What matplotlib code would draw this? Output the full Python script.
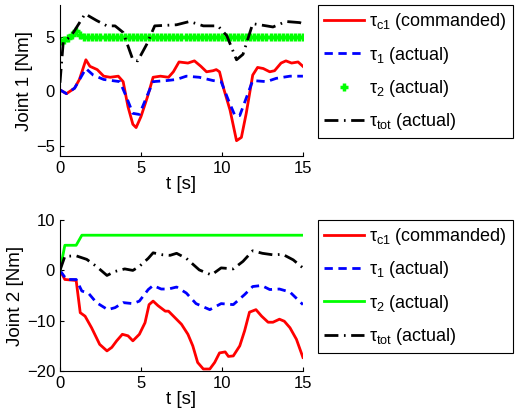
import matplotlib
matplotlib.use("Agg")
import matplotlib.pyplot as plt

plt.rcParams["font.family"] = ["Liberation Sans", "DejaVu Sans"]
plt.rcParams["mathtext.fontset"] = "custom"
plt.rcParams["mathtext.rm"] = "Liberation Sans"
plt.rcParams["mathtext.it"] = "Liberation Sans"
plt.rcParams["mathtext.bf"] = "Liberation Sans"

# ---- Joint 1 ----
t1_cmd = [0, 0.4, 0.9, 1.2, 1.6, 1.85, 2.3, 2.7, 3.1, 3.6, 3.9, 4.2, 4.5, 4.7, 5.0,
          5.4, 5.75, 6.2, 6.7, 7.0, 7.35, 7.9, 8.3, 8.7, 9.05, 9.45, 9.65, 9.85,
          10.1, 10.5, 10.9, 11.2, 11.5, 11.9, 12.2, 12.55, 12.95, 13.25, 13.65,
          13.95, 14.3, 14.7, 15]
j1_cmd = [0.15, -0.2, 0.3, 1.1, 2.9, 2.3, 2.0, 1.4, 1.3, 1.4, 0.9, -1.4, -3.0, -3.3,
          -2.3, -0.5, 1.3, 1.4, 1.3, 1.8, 2.7, 2.6, 2.8, 2.3, 1.8, 1.9, 2.0, 1.8,
          0.3, -1.7, -4.5, -4.2, -2.0, 1.5, 2.2, 2.1, 1.8, 1.9, 2.6, 2.8, 2.6,
          2.7, 2.3]

t1_act = [0, 0.4, 0.9, 1.6, 2.05, 2.7, 3.7, 4.1, 4.5, 4.9, 5.35, 5.75, 6.6, 7.2,
          7.8, 8.6, 9.45, 9.95, 10.4, 10.8, 11.1, 11.5, 11.9, 12.75, 13.35, 14.2, 15]
j1_act = [0.15, -0.2, 0.3, 2.1, 1.5, 1.1, 0.9, -0.5, -2.0, -2.1, -0.5, 0.9, 1.0,
          1.1, 1.4, 1.3, 1.0, 0.9, -0.8, -2.2, -2.2, -0.6, 1.0, 0.9, 1.2, 1.4, 1.4]

t1_tau2 = [0, 0.25, 0.5, 0.75, 1.0, 1.25, 1.5, 1.75, 2.0, 2.25, 2.5, 2.75, 3.0,
           3.25, 3.5, 3.75, 4.0, 4.25, 4.5, 4.75, 5.0, 5.25, 5.5, 5.75, 6.0,
           6.25, 6.5, 6.75, 7.0, 7.25, 7.5, 7.75, 8.0, 8.25, 8.5, 8.75, 9.0,
           9.25, 9.5, 9.75, 10.0, 10.25, 10.5, 10.75, 11.0, 11.25, 11.5, 11.75,
           12.0, 12.25, 12.5, 12.75, 13.0, 13.25, 13.5, 13.75, 14.0, 14.25,
           14.5, 14.75, 15.0]
j1_tau2 = [4.6, 4.7, 4.9, 5.2, 5.5, 5.2, 5.0, 5.0, 5.0, 5.0, 5.0, 5.0, 5.0,
           5.0, 5.0, 5.0, 5.0, 5.0, 5.0, 5.0, 5.0, 5.0, 5.0, 5.0, 5.0,
           5.0, 5.0, 5.0, 5.0, 5.0, 5.0, 5.0, 5.0, 5.0, 5.0, 5.0, 5.0,
           5.0, 5.0, 5.0, 5.0, 5.0, 5.0, 5.0, 5.0, 5.0, 5.0, 5.0,
           5.0, 5.0, 5.0, 5.0, 5.0, 5.0, 5.0, 5.0, 5.0, 5.0,
           5.0, 5.0, 5.0]

t1_tot = [0, 0.2, 0.7, 1.55, 2.25, 2.9, 3.4, 3.9, 4.5, 4.8, 5.35, 5.85, 7.2, 8.0,
          8.85, 9.75, 10.3, 10.9, 11.3, 11.9, 12.75, 13.15, 13.95, 14.8, 15]
j1_tot = [0.8, 4.5, 5.1, 7.1, 6.5, 6.0, 6.0, 5.4, 2.9, 2.8, 4.3, 6.0, 6.1, 6.4,
          6.0, 6.0, 5.1, 2.9, 3.4, 6.2, 6.0, 5.9, 6.4, 6.3, 6.2]

# ---- Joint 2 ----
t2_cmd = [0, 0.3, 1.0, 1.25, 1.55, 1.95, 2.45, 2.9, 3.2, 3.5, 3.85, 4.2, 4.5, 4.9,
          5.25, 5.5, 5.75, 6.05, 6.5, 6.7, 7.1, 7.5, 7.9, 8.2, 8.5, 8.85, 9.25,
          9.55, 9.85, 10.2, 10.4, 10.7, 11.1, 11.4, 11.7, 12.1, 12.45, 12.85,
          13.15, 13.55, 13.85, 14.2, 14.6, 15]
j2_cmd = [0, -1.8, -2.0, -8.4, -9.1, -11.4, -14.7, -16.0, -15.3, -14.0, -12.7,
          -13.0, -14.0, -12.7, -10.4, -6.8, -6.1, -7.0, -8.1, -8.1, -9.4, -10.7,
          -12.7, -15.0, -18.3, -19.6, -19.6, -18.3, -16.4, -16.2, -17.1, -17.0,
          -15.0, -12.0, -8.3, -7.8, -9.1, -10.3, -10.3, -9.7, -10.1, -11.4,
          -13.7, -17.3]

t2_act = [0, 0.4, 1.0, 1.35, 1.75, 2.25, 2.95, 3.4, 3.9, 4.5, 4.9, 5.45, 5.75,
          6.25, 6.7, 7.2, 7.8, 8.4, 9.25, 9.95, 10.7, 11.4, 11.9, 12.45, 12.95,
          13.55, 14.2, 15]
j2_act = [0, -1.8, -1.8, -4.1, -4.5, -6.4, -7.8, -7.4, -6.4, -6.6, -6.1, -3.8,
          -3.0, -3.7, -3.7, -3.3, -4.5, -6.6, -7.8, -6.6, -6.8, -4.8, -3.2, -3.0,
          -3.8, -3.7, -4.3, -6.8]

t2_tau2 = [0, 0.3, 1.0, 1.35, 15]
j2_tau2 = [0, 5.0, 5.0, 7.0, 7.0]

t2_tot = [0, 0.3, 1.0, 1.65, 2.25, 2.9, 3.4, 4.0, 4.5, 4.9, 5.45, 5.75, 6.35, 6.8,
          7.2, 7.8, 8.6, 9.35, 9.95, 10.7, 11.3, 11.9, 12.5, 13.15, 13.75, 14.4, 15]
j2_tot = [0, 2.8, 2.9, 2.2, 0.8, -1.0, -0.2, 0.3, 0.0, 0.8, 2.4, 3.5, 3.1, 3.0,
          3.4, 2.4, 0.1, -0.9, 0.5, 0.3, 1.8, 3.9, 3.4, 3.1, 3.2, 2.1, 0.5]

labels = [r"$\tau_{c1}$ (commanded)", r"$\tau_1$ (actual)",
          r"$\tau_2$ (actual)", r"$\tau_{tot}$ (actual)"]

fig = plt.figure(figsize=(5.18, 4.18), dpi=100)
ax1 = fig.add_axes([0.1158, 0.6268, 0.469, 0.361])
ax2 = fig.add_axes([0.1158, 0.1124, 0.469, 0.361])

dashdot = (0, (5, 2, 0.6, 2))

ax1.plot(t1_cmd, j1_cmd, color="red", lw=2, label=labels[0])
ax1.plot(t1_act, j1_act, color="blue", lw=2, ls=(0, (3, 2)), label=labels[1])
ax1.plot(t1_tau2, j1_tau2, color="#00ff00", ls="none", marker="+", ms=6, mew=2.5,
         label=labels[2])
ax1.plot(t1_tot, j1_tot, color="black", lw=2, ls=dashdot, label=labels[3])
ax1.set_ylim(-5.9, 7.9)
ax1.set_yticks([-5, 0, 5])

ax2.plot(t2_cmd, j2_cmd, color="red", lw=2, label=labels[0])
ax2.plot(t2_act, j2_act, color="blue", lw=2, ls=(0, (3, 2)), label=labels[1])
ax2.plot(t2_tau2, j2_tau2, color="#00ff00", lw=2, label=labels[2])
ax2.plot(t2_tot, j2_tot, color="black", lw=2, ls=dashdot, label=labels[3])
ax2.set_ylim(-20, 10)
ax2.set_yticks([-20, -10, 0, 10])

for ax, ylab, anchor in [(ax1, "Joint 1 [Nm]", (0.614, 0.988)),
                         (ax2, "Joint 2 [Nm]", (0.614, 0.474))]:
    ax.set_xlim(0, 15)
    ax.set_xticks([0, 5, 10, 15])
    ax.spines["top"].set_visible(False)
    ax.spines["right"].set_visible(False)
    ax.tick_params(direction="in", labelsize=12, length=3)
    ax.set_xlabel("t [s]", fontsize=13.5, labelpad=0)
    ax.set_ylabel(ylab, fontsize=13.5, labelpad=2)
    leg = ax.legend(loc="upper left", bbox_to_anchor=anchor,
                    bbox_transform=fig.transFigure, fontsize=13,
                    fancybox=False, edgecolor="black", framealpha=1,
                    handlelength=2.2, handletextpad=0.25, labelspacing=0.68,
                    borderpad=0.35, borderaxespad=0)
    leg.get_frame().set_linewidth(0.8)

fig.savefig("out.png", dpi=100)
